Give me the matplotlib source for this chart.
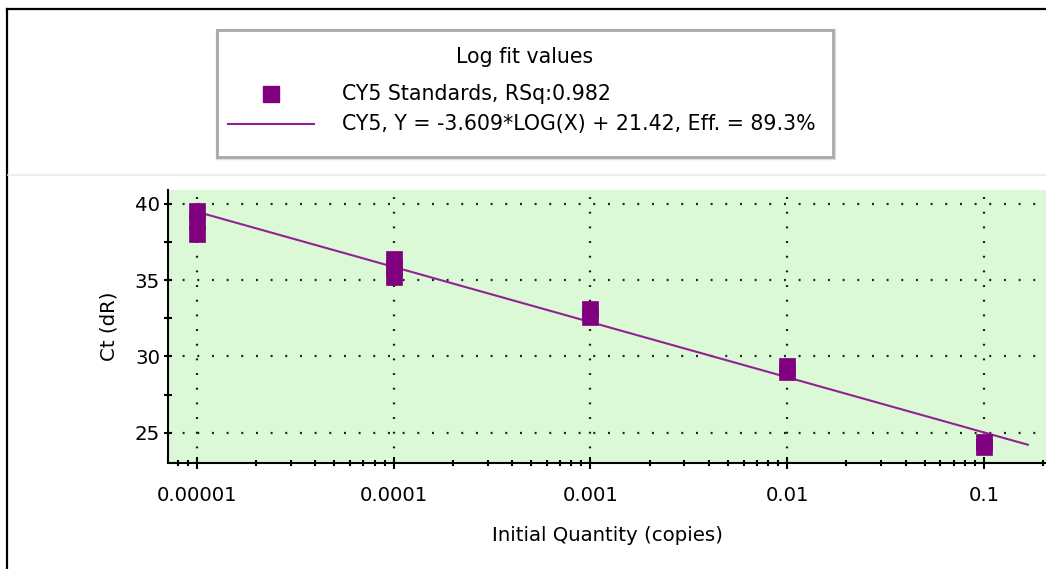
import numpy as np
import matplotlib
matplotlib.use("Agg")
import matplotlib.pyplot as plt
from matplotlib.patches import Rectangle
from matplotlib.lines import Line2D
from matplotlib.ticker import FixedLocator, FixedFormatter, NullFormatter

# Standard dilution series (initial quantity, copies) and replicate Ct values
quantities = [1e-5, 1e-5, 1e-5, 1e-4, 1e-4, 1e-4, 1e-3, 1e-3, 1e-2, 1e-2, 1e-1, 1e-1]
ct_values = [39.5, 38.8, 38.0, 36.4, 35.8, 35.2, 33.1, 32.6, 29.4, 29.0, 24.4, 24.1]

# Log fit: Y = slope*LOG(X) + intercept
slope = -3.609
intercept = 21.42
rsq = 0.982
efficiency = 89.3
fit_range = (1e-5, 0.167)

x_ticks = [1e-5, 1e-4, 1e-3, 1e-2, 1e-1]
x_tick_labels = ["0.00001", "0.0001", "0.001", "0.01", "0.1"]
y_ticks = [25, 30, 35, 40]

W, H = 1046, 569
DPI = 100
FS = 14.2
LEG_FS = 14.8
plt.rcParams["font.family"] = ["DejaVu Sans"]

fig = plt.figure(figsize=(W / DPI, H / DPI), dpi=DPI)
fig.patch.set_facecolor("white")


def fx(px):
    return px / W


def fy(py):
    return 1 - py / H


# Plot area
ax_left, ax_right, ax_top, ax_bottom = 168, 1046, 189.5, 463
ax = fig.add_axes([fx(ax_left), fy(ax_bottom), fx(ax_right - ax_left), (ax_bottom - ax_top) / H])
ax.set_facecolor("#dbf8d7")
ax.set_xscale("log")
ax.set_xlim(10 ** -5.147, 10 ** -0.685)
ax.set_ylim(23.03, 40.92)

purple = "#800080"
line_purple = "#932193"

# Fitted line
xf = np.logspace(np.log10(fit_range[0]), np.log10(fit_range[1]), 100)
yf = slope * np.log10(xf) + intercept
fit_line, = ax.plot(xf, yf, color=line_purple, lw=1.5, zorder=3)

# Standards
pts, = ax.plot(quantities, ct_values, ls="none", marker="s", ms=12,
               mfc=purple, mec=purple, mew=0.5, zorder=4)

# Grid of dots
dot_style = dict(color="#1a1a1a", lw=1.6, ls=(0, (0.85, 5.75)), zorder=2)
for xv in x_ticks:
    ax.axvline(xv, **dot_style)
for yv in y_ticks:
    ax.axhline(yv, **dot_style)

# Ticks
ax.xaxis.set_major_locator(FixedLocator(x_ticks))
ax.xaxis.set_major_formatter(FixedFormatter(x_tick_labels))
minor = [m * 10.0 ** e for e in range(-6, 0) for m in range(2, 10)]
ax.xaxis.set_minor_locator(FixedLocator(minor))
ax.xaxis.set_minor_formatter(NullFormatter())
ax.yaxis.set_major_locator(FixedLocator(y_ticks))
ax.yaxis.set_minor_locator(FixedLocator([27.5, 32.5, 37.5]))

ax.tick_params(axis="x", which="major", direction="inout", length=8.5, width=1.5,
               labelsize=FS, pad=12, colors="black")
ax.tick_params(axis="x", which="minor", direction="inout", length=4.3, width=1.5)
ax.tick_params(axis="y", which="both", direction="inout", length=5.5, width=1.5,
               labelsize=FS, pad=3, colors="black")

for s in ("top", "right"):
    ax.spines[s].set_visible(False)
for s in ("left", "bottom"):
    ax.spines[s].set_linewidth(1.5)

ax.set_xlabel("Initial Quantity (copies)", fontsize=FS, labelpad=15.5)
ax.set_ylabel("Ct (dR)", fontsize=FS, labelpad=12)

# Outer frame and separator
fig.add_artist(Line2D([fx(7), fx(7)], [fy(9), fy(H)], color="black", lw=1.6))
fig.add_artist(Line2D([fx(7), fx(W)], [fy(9), fy(9)], color="black", lw=1.6))
fig.add_artist(Line2D([fx(8), fx(W)], [fy(175), fy(175)], color="#ebebeb", lw=1.2))

# Legend box
lx0, ly0, lx1, ly1 = 217, 30, 833, 157
fig.add_artist(Rectangle((fx(lx0 - 1.5), fy(ly1 + 1.5)), fx(lx1 - lx0 + 3), (ly1 - ly0 + 3) / H,
                         facecolor="none", edgecolor="#dedede", lw=1.0))
fig.add_artist(Rectangle((fx(lx0), fy(ly1)), fx(lx1 - lx0), (ly1 - ly0) / H,
                         facecolor="white", edgecolor="#a9a9a9", lw=2.0))
fig.text(fx(525), fy(57), "Log fit values", fontsize=LEG_FS, ha="center", va="center")
fig.add_artist(Line2D([fx(271)], [fy(94)], ls="none", marker="s", ms=11,
                      mfc=purple, mec=purple))
fig.add_artist(Line2D([fx(228), fx(314)], [fy(124), fy(124)], color=line_purple, lw=1.5))
fig.text(fx(342), fy(94), f"CY5 Standards, RSq:{rsq}", fontsize=LEG_FS, ha="left", va="center")
fig.text(fx(342), fy(124),
         f"CY5, Y = {slope}*LOG(X) + {intercept}, Eff. = {efficiency}%",
         fontsize=LEG_FS, ha="left", va="center")

fig.savefig("out.png", dpi=DPI)
